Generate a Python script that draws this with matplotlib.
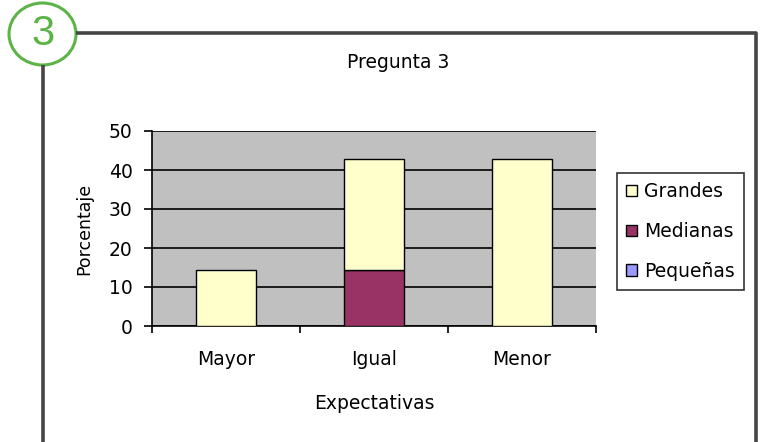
import matplotlib
matplotlib.use("Agg")
import matplotlib.pyplot as plt
from matplotlib.patches import Ellipse, Patch

plt.rcParams['font.family'] = ['DejaVu Sans']

categorias = ['Mayor', 'Igual', 'Menor']
pequenas = [0.0, 0.0, 0.0]
medianas = [0.0, 14.3, 0.0]
grandes = [14.3, 28.6, 42.9]

col_pequenas = '#9999ff'
col_medianas = '#993366'
col_grandes = '#ffffcc'
fs = 13.5

W, H = 761, 442
fig = plt.figure(figsize=(W / 100, H / 100), dpi=100)
fig.patch.set_facecolor('white')

# marco exterior y circulo con el numero
deco = fig.add_axes([0, 0, 1, 1])
deco.set_xlim(0, W)
deco.set_ylim(H, 0)
deco.axis('off')
deco.plot([76, 756, 756], [33, 33, H + 5], color='#454545', lw=2.6, solid_capstyle='butt')
deco.plot([43, 43], [65, H + 5], color='#454545', lw=2.6, solid_capstyle='butt')
deco.add_patch(Ellipse((42.5, 34), 67, 62, fill=False, edgecolor='#5cb346', lw=2.2))
deco.text(43, 34, '3', color='#5cb346', fontsize=30, ha='center', va='center',
          family=['Liberation Sans', 'DejaVu Sans'])

# area del grafico
ax = fig.add_axes([152 / W, (H - 326) / H, 444 / W, 195 / H])
ax.set_facecolor('#c0c0c0')
x = list(range(len(categorias)))
ancho = 0.41
ax.bar(x, pequenas, ancho, color=col_pequenas, edgecolor='black', lw=1, zorder=3)
ax.bar(x, medianas, ancho, bottom=pequenas, color=col_medianas, edgecolor='black', lw=1, zorder=3)
base = [p + m for p, m in zip(pequenas, medianas)]
ax.bar(x, grandes, ancho, bottom=base, color=col_grandes, edgecolor='black', lw=1, zorder=3)

ax.set_xlim(-0.5, 2.5)
ax.set_ylim(0, 50)
ax.set_yticks([0, 10, 20, 30, 40, 50])
ax.yaxis.grid(True, color='black', lw=1.2, zorder=1)
ax.set_axisbelow(True)
ax.set_xticks(x)
ax.set_xticklabels(categorias)
ax.set_xticks([-0.5, 0.5, 1.5, 2.5], minor=True)
ax.tick_params(axis='x', which='major', length=0, pad=17, labelsize=fs)
ax.tick_params(axis='x', which='minor', length=5, width=1.2, direction='out')
ax.tick_params(axis='y', length=6, width=1.2, labelsize=fs, pad=8)
for s in ['top', 'right']:
    ax.spines[s].set_visible(False)
for s in ['left', 'bottom']:
    ax.spines[s].set_linewidth(1.2)

ax.set_ylabel('Porcentaje', fontsize=12.5)
ax.yaxis.set_label_coords(-0.133, 0.5)
ax.set_xlabel('Expectativas', fontsize=fs, labelpad=18)
fig.text(398 / W, 1 - 62 / H, 'Pregunta 3', fontsize=fs, ha='center', va='center')

handles = [Patch(facecolor=col_grandes, edgecolor='black', lw=1),
           Patch(facecolor=col_medianas, edgecolor='black', lw=1),
           Patch(facecolor=col_pequenas, edgecolor='black', lw=1)]
leg = fig.legend(handles, ['Grandes', 'Medianas', 'Pequeñas'],
                 loc='upper left', bbox_to_anchor=(617 / W, 1 - 173 / H),
                 fontsize=fs, frameon=True, fancybox=False, edgecolor='black',
                 handlelength=0.55, handleheight=0.55, handletextpad=0.4,
                 labelspacing=1.1, borderpad=0.5, borderaxespad=0)
leg.get_frame().set_linewidth(1.2)

fig.savefig('out.png', dpi=100)
